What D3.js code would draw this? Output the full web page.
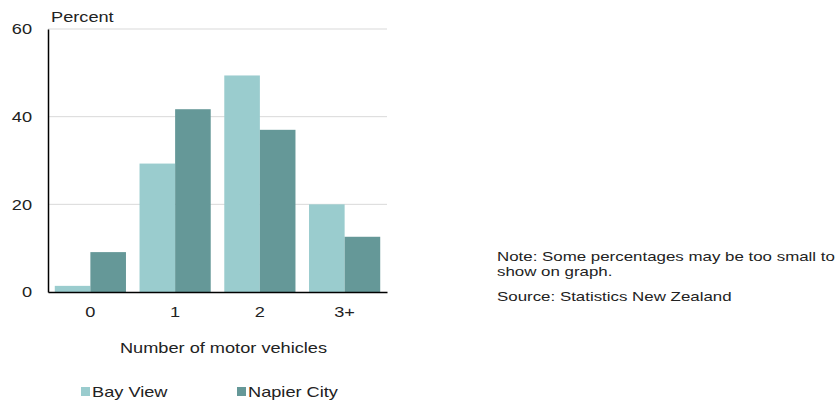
<!DOCTYPE html>
<html>
<head>
<meta charset="utf-8">
<script src="https://cdn.jsdelivr.net/npm/d3@7"></script>
<style>
  body { margin: 0; background: #fff; }
  text { font-family: "Liberation Sans", Arial, sans-serif; fill: #222; }
</style>
</head>
<body>
<div id="chart"></div>
<script>
const categories = ["0", "1", "2", "3+"]
const seriesNames = ["Bay View", "Napier City"]
const bayView = [1.4, 29.3, 49.4, 20.0]
const napierCity = [9.1, 41.7, 37.0, 12.6]
const yTicks = [0, 20, 40, 60]
const noteLines = ["Note: Some percentages may be too small to", "show on graph.", "Source: Statistics New Zealand"]

const colors = ["#9accce", "#659898"]
const width = 838, height = 403
const margin = { top: 29, right: 451, bottom: 111, left: 48 }
const sx = 1.3 // the text in the source is drawn horizontally stretched

// put text at (x, y) but stretched sideways
function stretch(sel, xFn, yFn) {
    sel.attr("x", 0).attr("y", 0)
        .attr("transform", (d, i) => `translate(${xFn(d, i)},${yFn(d, i)}) scale(${sx},1)`)
}

const svg = d3.select("#chart")
    .append("svg")
    .attr("width", width)
    .attr("height", height)

const x = d3.scaleBand()
    .domain(categories)
    .range([margin.left, width - margin.right])
    .paddingInner(0.16)
    .paddingOuter(0.08)

const xSub = d3.scaleBand()
    .domain(seriesNames)
    .range([0, x.bandwidth()])

const y = d3.scaleLinear()
    .domain([0, 60])
    .range([height - margin.bottom, margin.top])

// gridlines
svg.append("g")
    .selectAll("line")
    .data(yTicks.filter(d => d > 0))
    .enter()
    .append("line")
    .attr("x1", margin.left)
    .attr("x2", width - margin.right)
    .attr("y1", d => y(d))
    .attr("y2", d => y(d))
    .attr("stroke", "#d9d9d9")
    .attr("stroke-width", 1)

// bars
const rows = categories.map((c, i) => ({ cat: c, values: [bayView[i], napierCity[i]] }))

svg.append("g")
    .selectAll("g")
    .data(rows)
    .enter()
    .append("g")
    .attr("transform", d => `translate(${x(d.cat)},0)`)
    .selectAll("rect")
    .data(d => d.values.map((v, j) => ({ name: seriesNames[j], value: v, j: j })))
    .enter()
    .append("rect")
    .attr("x", d => xSub(d.name))
    .attr("width", xSub.bandwidth())
    .attr("y", d => y(d.value))
    .attr("height", d => y(0) - y(d.value))
    .attr("fill", d => colors[d.j])

// y axis
const yAxis = svg.append("g")
    .attr("transform", `translate(${margin.left},0)`)
    .call(d3.axisLeft(y).tickValues(yTicks).tickSize(0))
yAxis.select(".domain").attr("stroke", "#000").attr("stroke-width", 1.5)
yAxis.selectAll("text")
    .attr("font-size", 14)
    .style("font-family", "Liberation Sans, Arial, sans-serif")
    .attr("fill", "#222")
    .attr("dy", "0.35em")
    .call(stretch, () => -16, () => 0)

// x axis
const xAxis = svg.append("g")
    .attr("transform", `translate(0,${y(0)})`)
    .call(d3.axisBottom(x).tickSize(0))
xAxis.select(".domain").attr("stroke", "#000").attr("stroke-width", 1.5)
xAxis.selectAll("text")
    .attr("font-size", 14)
    .style("font-family", "Liberation Sans, Arial, sans-serif")
    .attr("fill", "#222")
    .attr("dy", "0.71em")
    .call(stretch, () => 0, () => 15)

svg.append("text")
    .attr("font-size", 14)
    .text("Percent")
    .call(stretch, () => 51, () => 22)

svg.append("text")
    .attr("text-anchor", "middle")
    .attr("font-size", 14)
    .text("Number of motor vehicles")
    .call(stretch, () => (margin.left + width - margin.right) / 2 + 6, () => 353)

// legend
const legendX = [81, 237]
const legend = svg.append("g")
    .selectAll("g")
    .data(seriesNames)
    .enter()
    .append("g")
    .attr("transform", (d, i) => `translate(${legendX[i]},392)`)
legend.append("rect")
    .attr("x", 0)
    .attr("y", -5)
    .attr("width", 9)
    .attr("height", 9)
    .attr("fill", (d, i) => colors[i])
legend.append("text")
    .attr("font-size", 14)
    .text(d => d)
    .call(stretch, () => 11, () => 5)

// note
svg.append("g")
    .selectAll("text")
    .data(noteLines)
    .enter()
    .append("text")
    .attr("font-size", 13)
    .text(d => d)
    .call(stretch, () => 497, (d, i) => [261, 276, 301][i])
</script>
</body>
</html>
